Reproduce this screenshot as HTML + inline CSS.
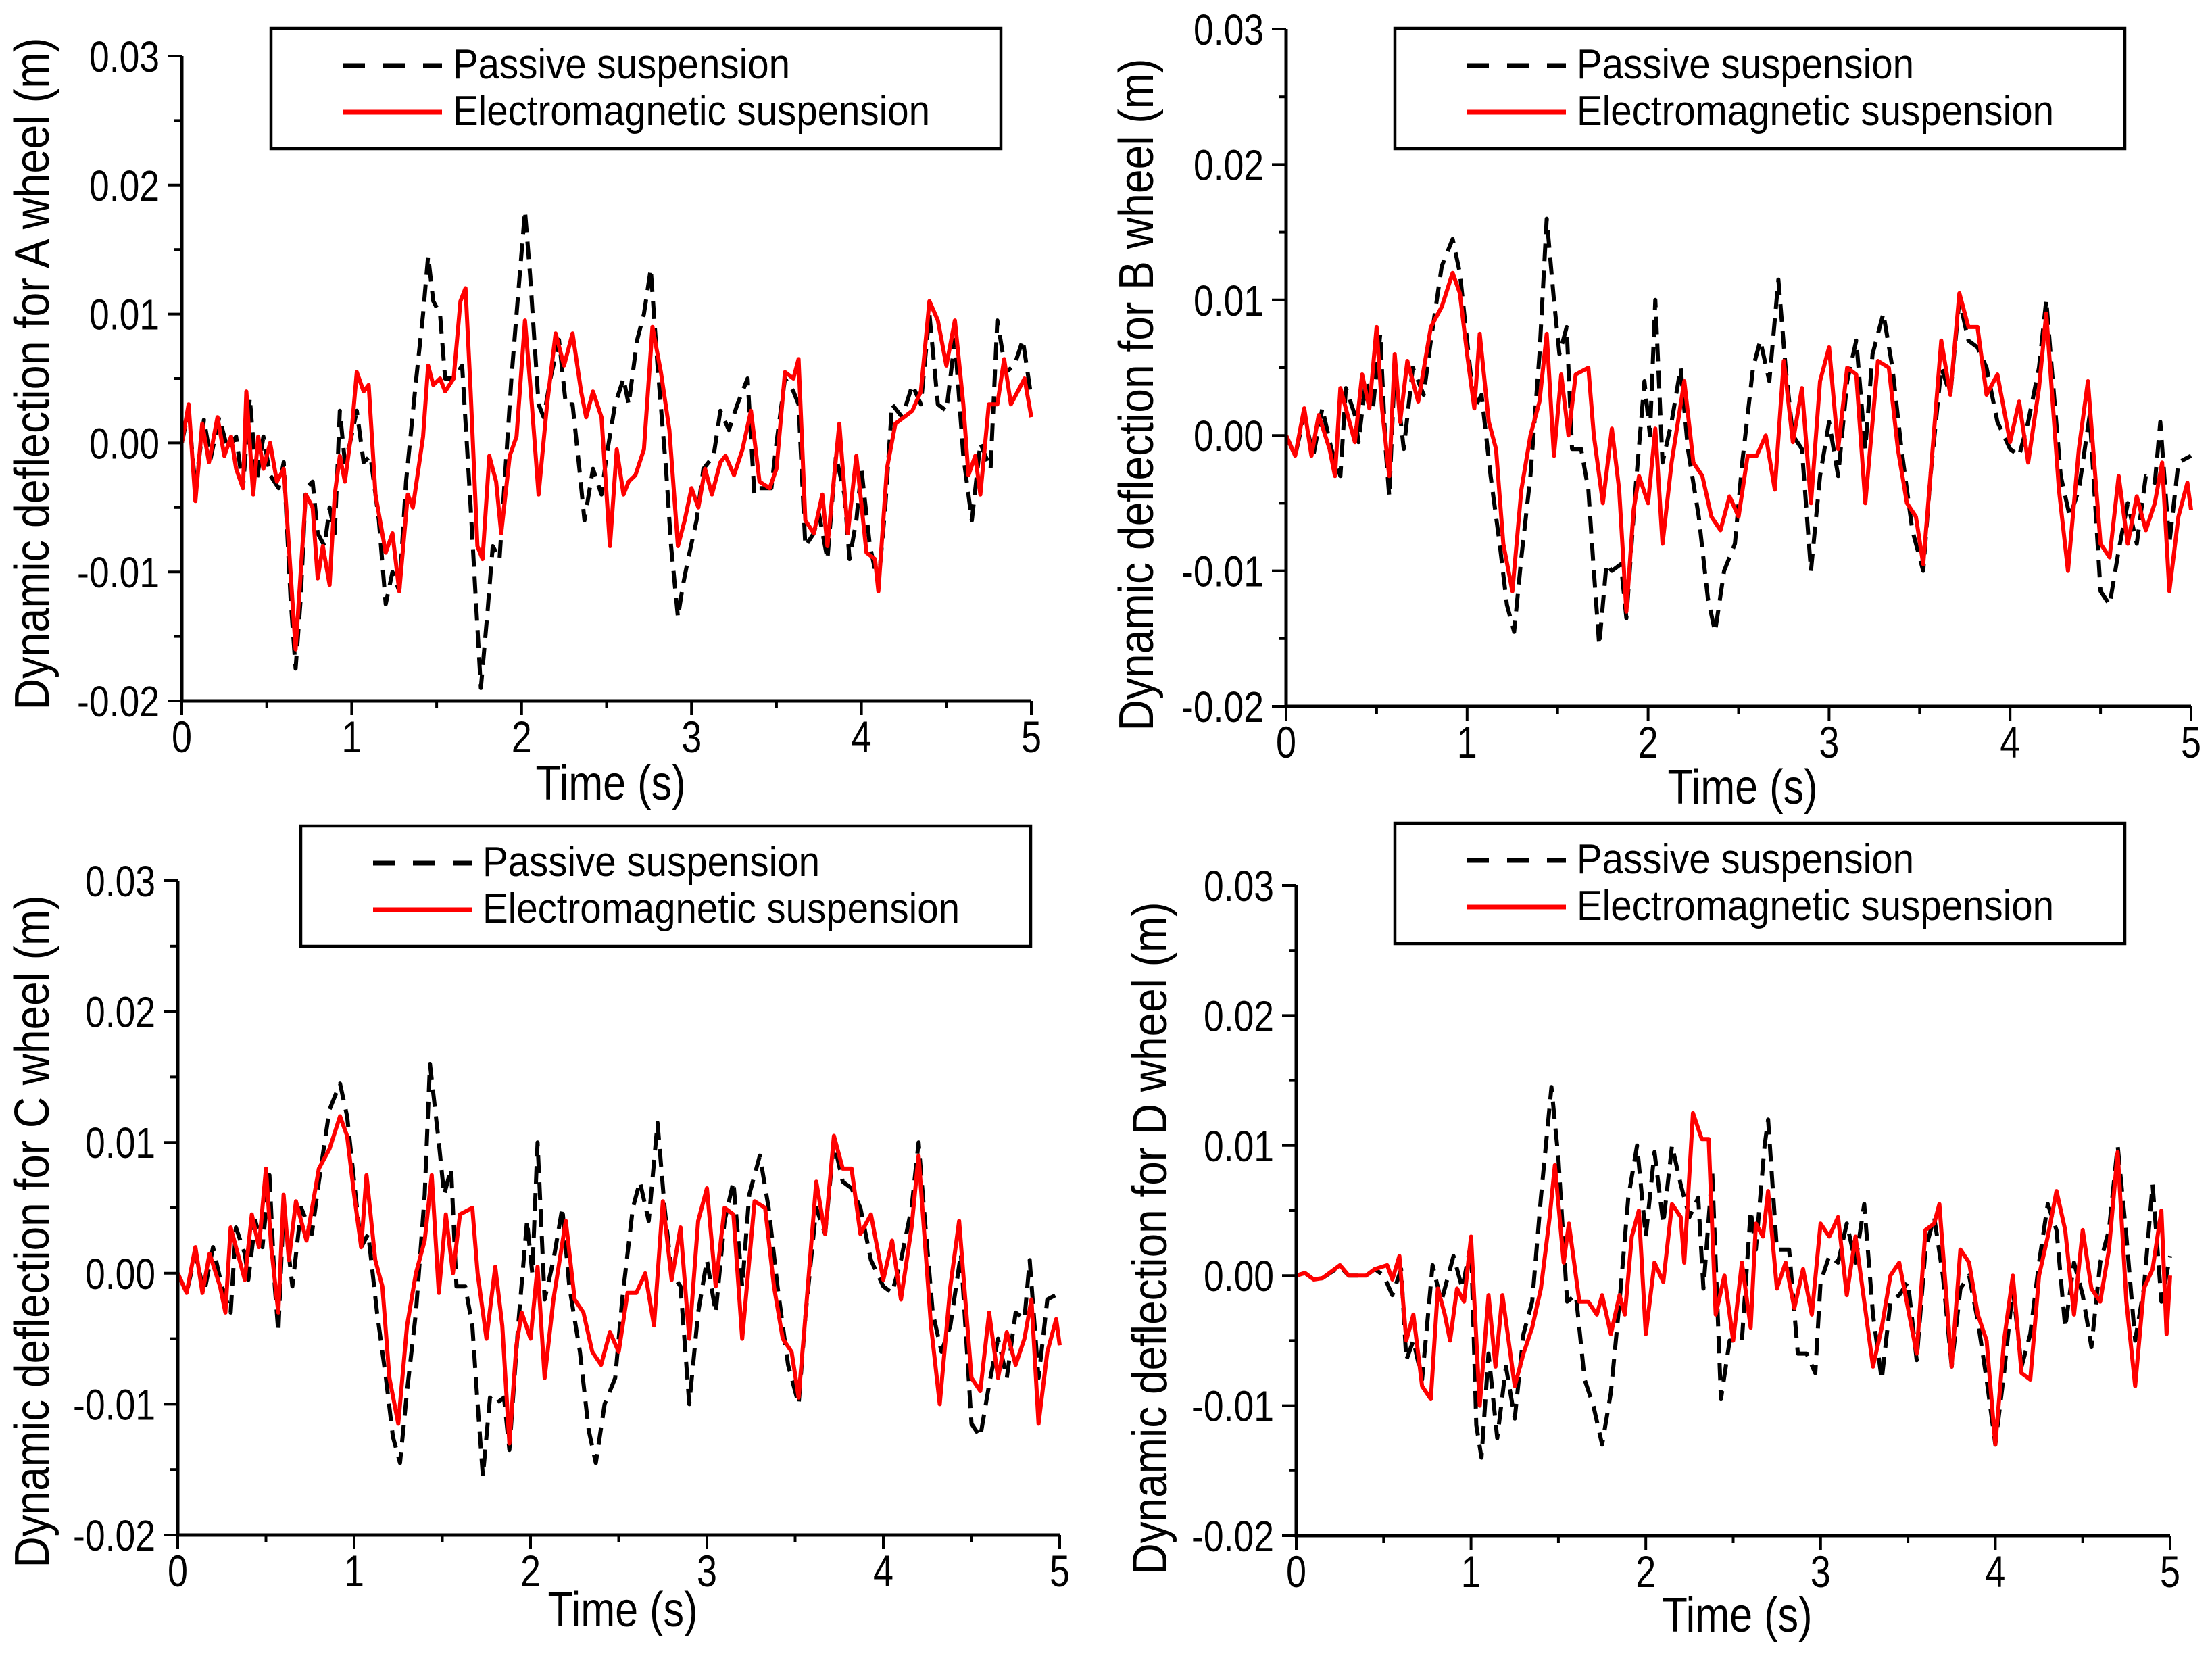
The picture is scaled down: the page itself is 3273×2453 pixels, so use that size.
<!DOCTYPE html>
<html><head><meta charset="utf-8"><style>
html,body{margin:0;padding:0;background:#fff;}
svg{display:block;}
text{font-family:"Liberation Sans",Arial,sans-serif;fill:#000;}
</style></head>
<body>
<svg id="fig" xmlns="http://www.w3.org/2000/svg" width="3273" height="2453" viewBox="0 0 3273 2453"></svg>
<script>
// data in mm (1 mm = 0.001 m); each point is [time s, deflection mm]
const yTickValues = [-20,-10,0,10,20,30];
const yTickLabels = ["-0.02","-0.01","0.00","0.01","0.02","0.03"];
const xTickValues = [0,1,2,3,4,5];
const xTickLabels = ["0","1","2","3","4","5"];
const legendLabels = ["Passive suspension","Electromagnetic suspension"];
const wheelNames = ["A","B","C","D"];

const aPassive = [[0,0],[0.04,2.5],[0.08,-3.5],[0.13,1.8],[0.17,-1.2],[0.22,2],[0.27,-0.5],[0.32,0.5],[0.36,-3.5],[0.4,3.5],[0.44,-3],[0.48,0.5],[0.52,-2.5],[0.57,-3.5],[0.6,-1.5],[0.64,-12],[0.67,-17.5],[0.7,-12],[0.73,-3.5],[0.77,-3],[0.8,-7],[0.84,-8],[0.87,-5],[0.9,-7],[0.93,2.5],[0.96,-1.5],[0.99,0],[1.03,2.5],[1.07,-1.5],[1.11,-1],[1.16,-6],[1.2,-12.5],[1.24,-10],[1.28,-11.5],[1.32,-3],[1.38,5],[1.42,10],[1.45,14.5],[1.48,11],[1.52,10],[1.55,5],[1.6,5],[1.65,6],[1.7,-5],[1.73,-12],[1.76,-19],[1.8,-13],[1.83,-8],[1.87,-9],[1.9,-3],[1.94,5],[1.97,10],[2.02,18],[2.05,13],[2.1,3],[2.13,2],[2.17,5],[2.22,8],[2.26,3],[2.3,3],[2.34,-2],[2.37,-6],[2.42,-2],[2.47,-4],[2.5,-1],[2.55,3],[2.6,5],[2.63,3],[2.68,8],[2.72,10],[2.76,13.5],[2.8,6],[2.85,-2],[2.88,-8],[2.92,-13.5],[2.95,-11],[2.98,-9],[3.03,-6],[3.07,-2],[3.13,-1],[3.17,2.5],[3.22,1],[3.27,3],[3.33,5],[3.37,-4],[3.4,-3.5],[3.47,-3.5],[3.5,0],[3.55,5],[3.6,4],[3.63,3],[3.67,-8],[3.72,-7],[3.75,-5.5],[3.8,-9],[3.85,-1],[3.9,-4],[3.93,-9],[3.97,-6],[4.0,-2],[4.05,-8],[4.1,-11],[4.14,-5],[4.18,3],[4.24,2],[4.3,4.5],[4.35,3],[4.4,10],[4.45,3],[4.5,2.5],[4.55,8],[4.6,-1],[4.65,-6],[4.7,0],[4.76,-2],[4.8,9.5],[4.85,5.5],[4.9,6],[4.95,8],[5,3.5]];
const aElectro = [[0,0],[0.04,3],[0.08,-4.5],[0.12,1.5],[0.16,-1.5],[0.21,2],[0.25,-1],[0.29,0.5],[0.32,-2],[0.36,-3.5],[0.38,4],[0.42,-4],[0.45,0.5],[0.48,-2],[0.52,0],[0.56,-3],[0.6,-2],[0.63,-8],[0.67,-16],[0.7,-10],[0.73,-4],[0.77,-5],[0.8,-10.5],[0.83,-8],[0.87,-11],[0.9,-4],[0.93,-1],[0.96,-3],[1.0,1],[1.03,5.5],[1.07,4],[1.1,4.5],[1.14,-4],[1.2,-8.5],[1.24,-7],[1.28,-11.5],[1.33,-4],[1.36,-5],[1.42,0.5],[1.45,6],[1.48,4.5],[1.52,5],[1.55,4],[1.6,5],[1.64,11],[1.67,12],[1.7,4],[1.74,-8],[1.77,-9],[1.81,-1],[1.85,-3],[1.88,-7],[1.93,-1],[1.97,0.5],[2.02,9.5],[2.06,3],[2.1,-4],[2.15,3],[2.2,8.5],[2.25,6],[2.3,8.5],[2.35,4],[2.38,2],[2.42,4],[2.47,2],[2.52,-8],[2.56,-0.5],[2.6,-4],[2.63,-3],[2.67,-2.5],[2.72,-0.5],[2.77,9],[2.82,5.5],[2.87,1],[2.92,-8],[2.96,-6],[3.0,-3.5],[3.04,-5],[3.08,-2],[3.12,-4],[3.17,-1.5],[3.2,-1],[3.25,-2.5],[3.3,-0.5],[3.35,2.5],[3.4,-3],[3.46,-3.5],[3.5,-2],[3.55,5.5],[3.6,5],[3.63,6.5],[3.67,-6],[3.72,-7],[3.77,-4],[3.8,-8],[3.87,1.5],[3.92,-7],[3.97,-1],[4.03,-8.5],[4.08,-9],[4.1,-11.5],[4.15,-2],[4.2,1.5],[4.25,2],[4.3,2.5],[4.35,4],[4.4,11],[4.45,9.5],[4.5,6],[4.55,9.5],[4.6,3],[4.63,-2.5],[4.67,-1],[4.7,-4],[4.75,3],[4.8,3],[4.84,6.5],[4.88,3],[4.92,4],[4.96,5],[5,2]];
const bPassive = [[0,0],[0.05,-1.5],[0.1,1.5],[0.15,-1.5],[0.2,2],[0.25,-1],[0.3,-3],[0.33,3.5],[0.38,1.5],[0.4,-0.5],[0.44,4],[0.48,2],[0.52,7.5],[0.55,-1],[0.57,-4.5],[0.6,5],[0.65,-1],[0.7,5],[0.76,3],[0.8,7],[0.86,12.5],[0.92,14.5],[0.96,12],[1.0,7],[1.04,2],[1.08,3],[1.13,-3],[1.18,-8],[1.22,-12.5],[1.26,-14.5],[1.3,-9],[1.35,-3],[1.4,6],[1.44,16],[1.48,10],[1.51,6],[1.55,8],[1.58,-1],[1.63,-1],[1.67,-4],[1.7,-10],[1.73,-15.5],[1.77,-9.5],[1.8,-10],[1.85,-9.5],[1.88,-13.5],[1.93,-4],[1.98,4],[2.01,0],[2.04,10],[2.08,-2],[2.13,1],[2.18,5],[2.22,-1],[2.28,-6],[2.33,-12],[2.37,-14.5],[2.42,-10],[2.48,-8],[2.52,-2],[2.58,5],[2.62,7],[2.67,4],[2.72,11.5],[2.76,5],[2.8,0],[2.85,-1],[2.9,-10],[2.95,-3],[3.0,1],[3.05,-3],[3.1,4],[3.15,7],[3.2,-1],[3.24,6],[3.3,9],[3.35,5],[3.4,-1],[3.46,-7],[3.52,-10],[3.56,-3],[3.62,5],[3.67,3],[3.72,10],[3.77,7],[3.82,6.5],[3.87,5],[3.93,1],[4.0,-1],[4.05,-1.5],[4.1,1],[4.16,5],[4.2,10],[4.23,5],[4.28,-3],[4.33,-6],[4.38,-4],[4.44,1.5],[4.5,-11.5],[4.55,-12.5],[4.6,-8.5],[4.65,-5],[4.7,-8],[4.75,-3],[4.8,-3.5],[4.83,1],[4.88,-8],[4.93,-2],[5,-1.5]];
const bElectro = [[0,0],[0.05,-1.5],[0.1,2],[0.14,-1.5],[0.18,1.5],[0.24,-1],[0.27,-3],[0.3,3.5],[0.35,1],[0.38,-0.5],[0.42,4.5],[0.46,2],[0.5,8],[0.53,2],[0.57,-3],[0.6,6],[0.63,1],[0.67,5.5],[0.73,2.5],[0.8,8],[0.86,9.5],[0.92,12],[0.96,10.5],[1.0,6],[1.04,2],[1.07,7.5],[1.12,1],[1.16,-1],[1.2,-8],[1.25,-11.5],[1.3,-4],[1.35,0],[1.4,2.5],[1.44,7.5],[1.48,-1.5],[1.52,4.5],[1.56,0],[1.6,4.5],[1.67,5],[1.7,0],[1.75,-5],[1.8,0.5],[1.84,-4],[1.88,-13],[1.92,-5.5],[1.95,-3],[2.0,-5],[2.04,0.5],[2.08,-8],[2.13,-2],[2.2,4],[2.25,-2],[2.3,-3],[2.35,-6],[2.4,-7],[2.45,-4.5],[2.5,-6],[2.55,-1.5],[2.6,-1.5],[2.65,0],[2.7,-4],[2.75,5.5],[2.8,-0.5],[2.85,3.5],[2.9,-5],[2.95,4],[3.0,6.5],[3.05,-1],[3.1,5],[3.15,4.5],[3.2,-5],[3.27,5.5],[3.33,5],[3.38,-1],[3.43,-5],[3.48,-6],[3.52,-9.5],[3.56,-3],[3.62,7],[3.67,3],[3.72,10.5],[3.77,8],[3.82,8],[3.87,3],[3.93,4.5],[4.0,-0.5],[4.05,2.5],[4.1,-2],[4.16,3.5],[4.2,9],[4.27,-4],[4.32,-10],[4.38,-1],[4.43,4],[4.5,-8],[4.55,-9],[4.6,-3],[4.65,-8],[4.7,-4.5],[4.75,-7],[4.8,-5],[4.84,-2],[4.88,-11.5],[4.93,-6],[4.98,-3.5],[5,-5.5]];
const cPassive = [[0,0],[0.05,-1.5],[0.1,1.5],[0.15,-1.5],[0.2,2],[0.25,-1],[0.3,-3],[0.33,3.5],[0.38,1.5],[0.4,-0.5],[0.44,4],[0.48,2],[0.52,7.5],[0.55,-1],[0.57,-4.5],[0.6,5],[0.65,-1],[0.7,5],[0.76,3],[0.8,7],[0.86,12.5],[0.92,14.5],[0.96,12],[1.0,7],[1.04,2],[1.08,3],[1.13,-3],[1.18,-8],[1.22,-12.5],[1.26,-14.5],[1.3,-9],[1.35,-3],[1.4,6],[1.43,16],[1.48,10],[1.51,6],[1.55,8],[1.58,-1],[1.63,-1],[1.67,-4],[1.7,-10],[1.73,-15.5],[1.77,-9.5],[1.8,-10],[1.85,-9.5],[1.88,-13.5],[1.93,-4],[1.98,4],[2.01,0],[2.04,10],[2.08,-2],[2.13,1],[2.18,5],[2.22,-1],[2.28,-6],[2.33,-12],[2.37,-14.5],[2.42,-10],[2.48,-8],[2.52,-2],[2.58,5],[2.62,7],[2.67,4],[2.72,11.5],[2.76,5],[2.8,0],[2.85,-1],[2.9,-10],[2.95,-3],[3.0,1],[3.05,-3],[3.1,4],[3.15,7],[3.2,-1],[3.24,6],[3.3,9],[3.35,5],[3.4,-1],[3.46,-7],[3.52,-10],[3.56,-3],[3.62,5],[3.67,3],[3.72,10],[3.77,7],[3.82,6.5],[3.87,5],[3.93,1],[4.0,-1],[4.05,-1.5],[4.1,1],[4.16,5],[4.2,10],[4.23,5],[4.28,-3],[4.33,-6],[4.38,-4],[4.44,1.5],[4.5,-11.5],[4.55,-12.5],[4.6,-8.5],[4.65,-5],[4.7,-8],[4.75,-3],[4.8,-3.5],[4.83,1],[4.88,-8],[4.93,-2],[5,-1.5]];
const cElectro = [[0,0],[0.05,-1.5],[0.1,2],[0.14,-1.5],[0.18,1.5],[0.24,-1],[0.27,-3],[0.3,3.5],[0.35,1],[0.38,-0.5],[0.42,4.5],[0.46,2],[0.5,8],[0.53,2],[0.57,-3],[0.6,6],[0.63,1],[0.67,5.5],[0.73,2.5],[0.8,8],[0.86,9.5],[0.92,12],[0.96,10.5],[1.0,6],[1.04,2],[1.07,7.5],[1.12,1],[1.16,-1],[1.2,-8],[1.25,-11.5],[1.3,-4],[1.35,0],[1.4,2.5],[1.44,7.5],[1.48,-1.5],[1.52,4.5],[1.56,0],[1.6,4.5],[1.67,5],[1.7,0],[1.75,-5],[1.8,0.5],[1.84,-4],[1.88,-13],[1.92,-5.5],[1.95,-3],[2.0,-5],[2.04,0.5],[2.08,-8],[2.13,-2],[2.2,4],[2.25,-2],[2.3,-3],[2.35,-6],[2.4,-7],[2.45,-4.5],[2.5,-6],[2.55,-1.5],[2.6,-1.5],[2.65,0],[2.7,-4],[2.75,5.5],[2.8,-0.5],[2.85,3.5],[2.9,-5],[2.95,4],[3.0,6.5],[3.05,-1],[3.1,5],[3.15,4.5],[3.2,-5],[3.27,5.5],[3.33,5],[3.38,-1],[3.43,-5],[3.48,-6],[3.52,-9.5],[3.56,-3],[3.62,7],[3.67,3],[3.72,10.5],[3.77,8],[3.82,8],[3.87,3],[3.93,4.5],[4.0,-0.5],[4.05,2.5],[4.1,-2],[4.16,3.5],[4.2,9],[4.27,-4],[4.32,-10],[4.38,-1],[4.43,4],[4.5,-8],[4.55,-9],[4.6,-3],[4.65,-8],[4.7,-4.5],[4.75,-7],[4.8,-5],[4.84,-2],[4.88,-11.5],[4.93,-6],[4.98,-3.5],[5,-5.5]];
const dPassive = [[0,0],[0.05,0.2],[0.1,-0.3],[0.15,-0.2],[0.25,0.7],[0.3,0],[0.4,0],[0.45,0.5],[0.5,0],[0.55,-1.5],[0.6,0.5],[0.63,-6.5],[0.67,-5],[0.72,-8],[0.78,0.8],[0.83,-2],[0.9,1.5],[0.95,-1],[1.0,2.5],[1.03,-11.5],[1.06,-14],[1.1,-6],[1.15,-12.5],[1.2,-7],[1.25,-11],[1.3,-4.5],[1.35,-2],[1.4,6],[1.46,14.5],[1.5,9],[1.55,-2],[1.6,-1.5],[1.65,-8],[1.7,-10],[1.75,-13],[1.8,-9],[1.85,-2],[1.9,6],[1.95,10],[2.0,3],[2.05,9.5],[2.1,4],[2.15,10],[2.2,7],[2.25,4.5],[2.3,6],[2.33,-1],[2.38,8],[2.43,-9.5],[2.48,-5],[2.55,-5],[2.6,5],[2.63,2],[2.68,10],[2.7,12],[2.75,2],[2.82,2],[2.87,-6],[2.92,-6],[2.97,-7.5],[3.0,-0.5],[3.05,1.5],[3.1,1],[3.15,4],[3.2,1],[3.25,5.5],[3.3,-3],[3.35,-8],[3.4,-2],[3.45,-1.5],[3.5,-0.5],[3.55,-6.5],[3.6,2],[3.65,4.5],[3.7,0],[3.75,-7],[3.8,-1],[3.85,0],[3.9,-3.5],[3.95,-8],[4.0,-13],[4.05,-7.5],[4.1,-1],[4.15,-7],[4.2,-4.5],[4.25,1],[4.3,5.5],[4.35,3.5],[4.4,-4],[4.45,1],[4.5,-1.5],[4.55,-5.5],[4.6,1],[4.65,3.5],[4.7,10],[4.75,3],[4.8,-5],[4.85,-1],[4.9,7],[4.95,-2],[5,1.5]];
const dElectro = [[0,0],[0.05,0.2],[0.1,-0.3],[0.15,-0.2],[0.25,0.8],[0.3,0],[0.4,0],[0.45,0.5],[0.52,0.8],[0.55,-0.3],[0.59,1.5],[0.63,-5],[0.67,-3],[0.72,-8.5],[0.77,-9.5],[0.81,-1],[0.85,-3],[0.88,-5],[0.92,-1],[0.96,-2],[1.0,3],[1.05,-10],[1.1,-1.5],[1.14,-7],[1.18,-1.5],[1.25,-8.5],[1.3,-6],[1.35,-4],[1.4,-1],[1.45,4.5],[1.48,8.5],[1.53,1],[1.56,4],[1.62,-2],[1.67,-2],[1.72,-3],[1.75,-1.5],[1.8,-4.5],[1.85,-1.5],[1.88,-3],[1.92,3],[1.96,5],[2.0,-4.5],[2.05,1],[2.1,-0.5],[2.15,5.5],[2.2,4.5],[2.22,1],[2.27,12.5],[2.32,10.5],[2.36,10.5],[2.4,-3],[2.45,0],[2.5,-5],[2.55,1],[2.6,-4],[2.63,4],[2.67,3],[2.7,6.5],[2.75,-1],[2.8,1],[2.85,-2.5],[2.9,0.5],[2.95,-3],[3.0,4],[3.05,3],[3.1,4.5],[3.15,-1.5],[3.2,3],[3.3,-7],[3.35,-4],[3.4,0],[3.45,1],[3.55,-6],[3.6,3.5],[3.65,4],[3.68,5.5],[3.75,-7],[3.8,2],[3.85,1],[3.9,-3],[3.95,-5],[4.0,-13],[4.05,-5],[4.1,0],[4.15,-7.5],[4.2,-8],[4.25,0],[4.3,3],[4.35,6.5],[4.4,3.5],[4.45,-3],[4.5,3.5],[4.55,-1],[4.6,-2],[4.65,2],[4.7,9.5],[4.75,-2],[4.8,-8.5],[4.85,-1],[4.9,0.5],[4.95,5],[4.98,-4.5],[5,0]];

const passiveSeries = [aPassive,bPassive,cPassive,dPassive];
const electroSeries = [aElectro,bElectro,cElectro,dElectro];

const panels = [
  {L:269,R:1526,T:83,B:1037,lx:401,ly:42,titleCY:553,titleX:72,timeY:1183},
  {L:1903,R:3242,T:43,B:1045,lx:2064,ly:42,titleCY:584,titleX:1706,timeY:1189},
  {L:263,R:1568,T:1303,B:2271,lx:445,ly:1222,titleCY:1822,titleX:72,timeY:2406},
  {L:1918,R:3211,T:1310,B:2272,lx:2064,ly:1218,titleCY:1832,titleX:1726,timeY:2414}
];
const XMIN=0,XMAX=5,YMIN=-20,YMAX=30;
const NS="http://www.w3.org/2000/svg";
const fig=document.getElementById('fig');
function mk(tag,attrs,parent){const e=document.createElementNS(NS,tag);for(const k in attrs)e.setAttribute(k,attrs[k]);(parent||fig).appendChild(e);return e;}
function labelWidth(s){let w=0;for(const c of s){w+= c==='.'?14:(c==='-'?18:30);}return w;}

panels.forEach((p,i)=>{
  const w=wheelNames[i].toLowerCase();
  const g=mk('g',{});
  
  
  const xs=t=>p.L+(t-XMIN)/(XMAX-XMIN)*(p.R-p.L);
  const ys=v=>p.B-(v-YMIN)/(YMAX-YMIN)*(p.B-p.T);
  const toPts=arr=>arr.map(d=>xs(d[0]).toFixed(1)+','+ys(d[1]).toFixed(1)).join(' ');
  const pl1=mk('polyline',{points:toPts(passiveSeries[i]),fill:'none',stroke:'#000','stroke-width':6,'stroke-dasharray':'26,14','stroke-linejoin':'round'},g);
  
  
  const pl2=mk('polyline',{points:toPts(electroSeries[i]),fill:'none',stroke:'#ff0000','stroke-width':6,'stroke-linejoin':'round'},g);
  
  
  const ax=mk('path',{d:`M${p.L},${p.T} L${p.L},${p.B} L${p.R},${p.B}`,fill:'none',stroke:'#000','stroke-width':5},g);
  
  
  yTickValues.forEach((v,k)=>{
    const y=ys(v);
    mk('line',{x1:p.L-21,y1:y,x2:p.L,y2:y,stroke:'#000','stroke-width':4},g);
    if(k<yTickValues.length-1){const ym=ys(v+5);mk('line',{x1:p.L-11,y1:ym,x2:p.L,y2:ym,stroke:'#000','stroke-width':4},g);}
    const t=mk('text',{x:p.L-33,y:y+23,'font-size':64,'text-anchor':'end',textLength:labelWidth(yTickLabels[k]),lengthAdjust:'spacingAndGlyphs'},g);
    t.textContent=yTickLabels[k];
    
    
  });
  xTickValues.forEach((v,k)=>{
    const x=xs(v);
    mk('line',{x1:x,y1:p.B,x2:x,y2:p.B+21,stroke:'#000','stroke-width':4},g);
    if(k<xTickValues.length-1){const xm=xs(v+0.5);mk('line',{x1:xm,y1:p.B,x2:xm,y2:p.B+11,stroke:'#000','stroke-width':4},g);}
    const t=mk('text',{x:x,y:p.B+76,'font-size':66,'text-anchor':'middle',textLength:labelWidth(xTickLabels[k]),lengthAdjust:'spacingAndGlyphs'},g);
    t.textContent=xTickLabels[k];
    
    
  });
  const xt=mk('text',{x:(p.L+p.R)/2+6,y:p.timeY,'font-size':72,'text-anchor':'middle',textLength:222,lengthAdjust:'spacingAndGlyphs'},g);
  xt.textContent='Time (s)';
  
  
  const yt=mk('text',{x:0,y:0,'font-size':72,'text-anchor':'middle',textLength:995,lengthAdjust:'spacingAndGlyphs',transform:`translate(${p.titleX},${p.titleCY}) rotate(-90)`},g);
  yt.textContent='Dynamic deflection for '+wheelNames[i]+' wheel (m)';
  
  
  const lg=mk('g',{},g);
  
  
  mk('rect',{x:p.lx,y:p.ly,width:1080,height:178,fill:'#fff',stroke:'#000','stroke-width':4.5},lg);
  const l1=mk('line',{x1:p.lx+107,y1:p.ly+55,x2:p.lx+253,y2:p.ly+55,stroke:'#000','stroke-width':7,'stroke-dasharray':'32,27'},lg);
  
  
  const l2=mk('line',{x1:p.lx+107,y1:p.ly+124,x2:p.lx+253,y2:p.ly+124,stroke:'#ff0000','stroke-width':7},lg);
  
  
  const t1=mk('text',{x:p.lx+269,y:p.ly+74,'font-size':62,textLength:499,lengthAdjust:'spacingAndGlyphs'},lg);
  t1.textContent=legendLabels[0];
  
  
  const t2=mk('text',{x:p.lx+269,y:p.ly+143,'font-size':62,textLength:706,lengthAdjust:'spacingAndGlyphs'},lg);
  t2.textContent=legendLabels[1];
  
  
});
</script>
</body></html>
